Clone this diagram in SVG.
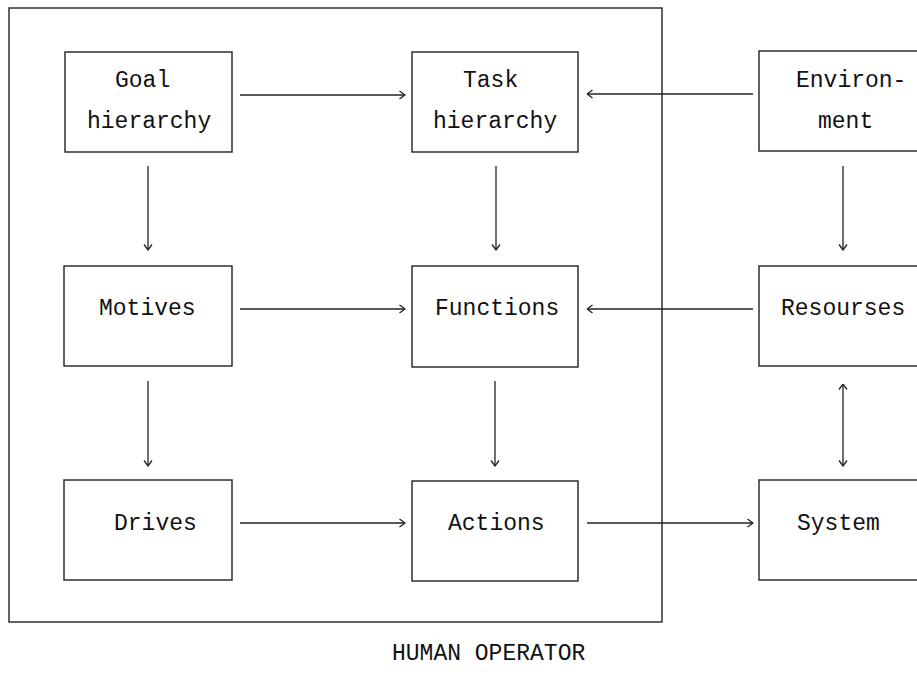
<svg xmlns="http://www.w3.org/2000/svg" width="917" height="692" viewBox="0 0 917 692">
<defs>
<marker id="ah" viewBox="0 0 10 10" refX="9.5" refY="5" markerWidth="10" markerHeight="10" markerUnits="userSpaceOnUse" orient="auto-start-reverse">
<path d="M4,1 L9.5,5 L4,9" fill="none" stroke="#222" stroke-width="1.3"/>
</marker>
<style>
.box{fill:#fff;stroke:#222;stroke-width:1.4}
.frame{fill:none;stroke:#222;stroke-width:1.4}
.t{font-family:"Liberation Mono","Courier New",monospace;font-size:23px;fill:#111}
.c{stroke:#222;stroke-width:1.3;fill:none;marker-end:url(#ah)}
.c2{stroke:#222;stroke-width:1.3;fill:none;marker-end:url(#ah);marker-start:url(#ah)}
</style>
</defs>
<rect width="917" height="692" fill="#fff"/>
<g id="human-operator">
<rect class="frame" x="9" y="8" width="653" height="614"/>
<text class="t" x="392" y="660">HUMAN OPERATOR</text>
</g>
<g id="goal"><rect class="box" x="65" y="52" width="167" height="100"/>
<text class="t" x="115" y="87">Goal</text><text class="t" x="87" y="128">hierarchy</text></g>
<g id="task"><rect class="box" x="412" y="52" width="166" height="100"/>
<text class="t" x="463" y="87">Task</text><text class="t" x="433" y="128">hierarchy</text></g>
<g id="environment"><rect class="box" x="759" y="51" width="160" height="100"/>
<text class="t" x="796" y="87">Environ-</text><text class="t" x="818" y="128">ment</text></g>
<g id="motives"><rect class="box" x="64" y="266" width="168" height="100"/>
<text class="t" x="99" y="315">Motives</text></g>
<g id="functions"><rect class="box" x="412" y="266" width="166" height="101"/>
<text class="t" x="435" y="315">Functions</text></g>
<g id="resourses"><rect class="box" x="759" y="266" width="160" height="100"/>
<text class="t" x="781" y="315">Resourses</text></g>
<g id="drives"><rect class="box" x="64" y="480" width="168" height="100"/>
<text class="t" x="114" y="530">Drives</text></g>
<g id="actions"><rect class="box" x="412" y="481" width="166" height="100"/>
<text class="t" x="448" y="530">Actions</text></g>
<g id="system"><rect class="box" x="759" y="480" width="160" height="100"/>
<text class="t" x="797" y="530">System</text></g>
<g id="connectors">
<line class="c" x1="240" y1="95" x2="405" y2="95"/>
<line class="c" x1="753" y1="94" x2="587" y2="94"/>
<line class="c" x1="148" y1="166" x2="148" y2="250"/>
<line class="c" x1="496" y1="166" x2="496" y2="250"/>
<line class="c" x1="843" y1="166" x2="843" y2="250"/>
<line class="c" x1="240" y1="309" x2="405" y2="309"/>
<line class="c" x1="753" y1="309" x2="587" y2="309"/>
<line class="c" x1="148" y1="381" x2="148" y2="466"/>
<line class="c" x1="495" y1="381" x2="495" y2="466"/>
<line class="c2" x1="843" y1="384" x2="843" y2="466"/>
<line class="c" x1="240" y1="523" x2="405" y2="523"/>
<line class="c" x1="587" y1="523" x2="753" y2="523"/>
</g>
</svg>
